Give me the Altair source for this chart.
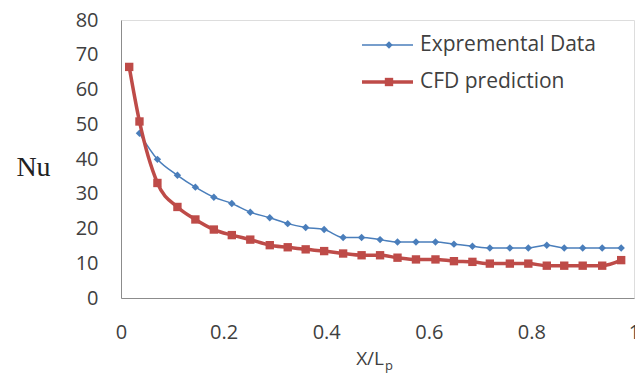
import altair as alt
import pandas as pd

# ---- data ----
x_pos = [0.016, 0.036, 0.071, 0.110, 0.145, 0.181, 0.216, 0.252, 0.290, 0.325,
         0.360, 0.396, 0.433, 0.469, 0.505, 0.539, 0.575, 0.613, 0.649, 0.685,
         0.719, 0.758, 0.794, 0.830, 0.864, 0.900, 0.938, 0.975]
cfd_nu = [66.5, 50.8, 33.1, 26.2, 22.6, 19.7, 18.1, 16.8, 15.2, 14.6,
          14.0, 13.5, 12.8, 12.3, 12.3, 11.6, 11.1, 11.1, 10.6, 10.4,
          9.9, 9.9, 9.9, 9.3, 9.3, 9.3, 9.3, 10.9]
exp_x = x_pos[1:]
exp_nu = [47.4, 39.9, 35.3, 31.9, 29.0, 27.2, 24.7, 23.1, 21.4, 20.3,
          19.7, 17.4, 17.4, 16.8, 16.1, 16.1, 16.1, 15.5, 14.9, 14.4,
          14.4, 14.4, 15.2, 14.4, 14.4, 14.4, 14.4]
series_names = ["Expremental Data", "CFD prediction"]
x_ticks = [0, 0.2, 0.4, 0.6, 0.8, 1]
y_ticks = [0, 10, 20, 30, 40, 50, 60, 70, 80]

BLUE = "#4A7EBB"
RED = "#BE4B48"
TXT = "#404040"
FONT = "Open Sans"

exp_df = pd.DataFrame({"x": exp_x, "nu": exp_nu})
cfd_df = pd.DataFrame({"x": x_pos, "nu": cfd_nu})

xaxis = alt.Axis(values=x_ticks, format="~g", grid=False, ticks=False,
                 domainColor="#8c8c8c", domainWidth=1,
                 labelFont=FONT, labelFontSize=20, labelColor=TXT,
                 labelPadding=24, labelBaseline="top", title=None,
                 labelFlush=False, labelOverlap=False)
yaxis = alt.Axis(values=y_ticks, grid=False, ticks=False,
                 domainColor="#8c8c8c", domainWidth=1,
                 labelFont=FONT, labelFontSize=20, labelColor=TXT,
                 labelPadding=23, labelOverlap=False,
                 title="Nu", titleAngle=0, titleFont="Liberation Serif",
                 titleFontSize=28, titleFontWeight="normal",
                 titleColor="#222222", titleX=-88, titleY=147,
                 titleAlign="center", titleBaseline="middle")

def xenc():
    return alt.X("x:Q", scale=alt.Scale(domain=[0, 1], nice=False, zero=False), axis=xaxis)

def yenc():
    return alt.Y("nu:Q", scale=alt.Scale(domain=[0, 80], nice=False), axis=yaxis)

exp_line = alt.Chart(exp_df).mark_line(
    color=BLUE, strokeWidth=1.5, interpolate="monotone",
    point=alt.OverlayMarkDef(shape="diamond", size=55, filled=True, color=BLUE, opacity=1),
).encode(x=xenc(), y=yenc())

cfd_line = alt.Chart(cfd_df).mark_line(
    color=RED, strokeWidth=3.5, interpolate="monotone",
    point=alt.OverlayMarkDef(shape="square", size=70, filled=True, color=RED, opacity=1),
).encode(x=xenc(), y=yenc())

# ---- custom legend (Excel-style line + marker samples) ----
def legend_entry(name, color, sw, shape, size, ypix):
    d = pd.DataFrame({"label": [name]})
    base = alt.Chart(d)
    rule = base.mark_rule(color=color, strokeWidth=sw).encode(
        x=alt.value(241), x2=alt.value(292), y=alt.value(ypix))
    pt = base.mark_point(shape=shape, size=size, filled=True, color=color, opacity=1).encode(
        x=alt.value(268), y=alt.value(ypix))
    txt = base.mark_text(align="left", baseline="middle", font=FONT, fontSize=21,
                         color=TXT).encode(
        x=alt.value(299), y=alt.value(ypix), text="label:N")
    return rule + pt + txt

leg1 = legend_entry(series_names[0], BLUE, 1.5, "diamond", 55, 25)
leg2 = legend_entry(series_names[1], RED, 3.5, "square", 70, 62)

# ---- x-axis title with subscript ----
title_df = pd.DataFrame({"main": ["X/L"], "sub": ["p"]})
xt_main = alt.Chart(title_df).mark_text(
    align="right", baseline="middle", font=FONT, fontSize=19, color=TXT
).encode(x=alt.value(263), y=alt.value(339), text="main:N")
xt_sub = alt.Chart(title_df).mark_text(
    align="left", baseline="middle", font=FONT, fontSize=13, color=TXT
).encode(x=alt.value(264), y=alt.value(346), text="sub:N")

chart = alt.layer(exp_line, cfd_line, leg1, leg2, xt_main, xt_sub).properties(
    width=513, height=278,
    autosize=alt.AutoSizeParams(type="none"),
    padding={"left": 121, "top": 20, "right": 1, "bottom": 80},
).configure_view(stroke=None).configure_axis(labelOverlap=False).configure(background="white")

chart.save("out.html", embed_options={"renderer": "svg", "actions": False})
